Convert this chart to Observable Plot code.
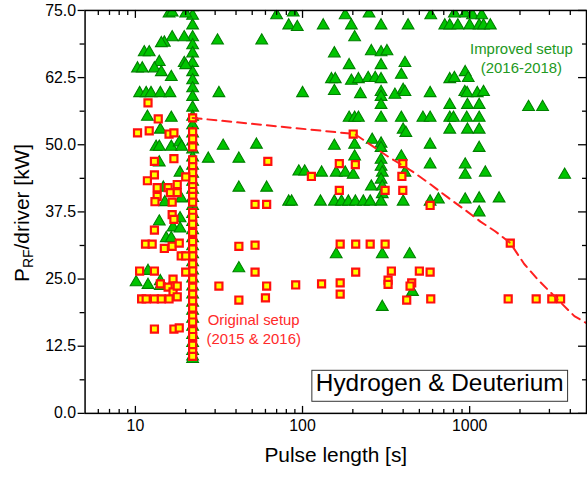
<!DOCTYPE html>
<html><head><meta charset="utf-8">
<script src="https://cdn.jsdelivr.net/npm/d3@7"></script>
<script src="https://cdn.jsdelivr.net/npm/@observablehq/plot@0.6"></script>
<style>html,body{margin:0;padding:0;overflow:hidden;background:#fff;} svg{display:block}</style>
</head><body><div id="chart"></div><script>
// ---- data (pulse length [s], P_RF/driver [kW]) ----
const columnPulse = 22;
const improvedColumnPower = [75.6, 74, 72.2, 70, 68.5, 67, 65.2, 63.5, 62, 60.5, 58.9, 56.9, 55.2, 53.6, 52.1, 50.6, 49.1, 47.6, 46.1, 44.6, 43.1, 41.6, 40.1, 38.6, 37.1, 35.6, 34.1, 32.6, 31.1, 29.6, 28.1, 26.6, 25.1, 23.6, 22.1, 20.6, 19.1, 17.6, 16.1, 14.6, 13.1, 11.6, 10.6, 10.1];
const originalColumnPower = [55, 52.4, 51.1, 49.6, 47.2, 45.9, 44.8, 43.5, 42.2, 41.3, 40.4, 39.3, 37.4, 36.5, 35.2, 33.7, 32, 30.6, 29.3, 27.8, 26.5, 25, 23.5, 22.2, 20.9, 19.6, 18.1, 17, 15.4, 14.3, 12.7, 11.5, 10.6];
const improvedPoints = [
  [15.9,74.4],[16.6,74.6],[20,74.4],[16.6,70],[19.6,70],[14.9,69],[14.3,68.9],
  [11.3,67.2],[12.1,67.2],[13.9,65.4],[19.6,65.2],[10.3,64.2],[11.0,64.2],[13.0,64.2],[14.3,63.5],[16.4,62.6],[20,64.8],
  [10.6,59.6],[11.6,59.6],[12.4,59.6],[14.1,59.6],[16.1,59.6],[11.8,55.2],[16.4,55],[14.1,52.8],
  [13.3,49.6],[13.9,49.6],[16.4,49.6],[18.3,50.4],[18.9,49.6],[13.9,46.7],[18.5,44.8],[14.7,42],[15,39.3],[18.8,40],
  [13.9,35.7],[18.5,36.3],[16.8,34.6],[18.5,34.4],[15.3,32.6],[16.4,32.6],
  [11.9,26.5],[10.1,24.4],[11.9,23.9],[14.1,24.6],[14.1,23.7],
  [70,74.1],[88,74.6],[180,74.1],[250,74.4],[585,74.1],[810,74.4],[940,74.4],[1040,74.1],[1180,74.1],
  [82.7,72.2],[93,71.9],[133,72.2],[196,72.2],[295,72.2],[428,72.2],[710,72.2],[760,72.2],[850,72.2],[1000,72.2],[1140,72.2],[1210,72.2],[1330,72.2],
  [31,69.4],[57,69.4],[205,70],[155,67],[258,67.4],[295,67.2],[320,67.4],[190,64.8],[295,64.8],[410,65.2],
  [390,63],[940,63.5],[760,62.2],[810,62.4],[980,62.4],
  [149,62.2],[157,62.2],[196,61.9],[216,62.2],[247,62.4],[272,62.4],[295,62.2],
  [31.6,59.6],[100,59.6],[155,60],[222,59.4],[295,59.8],[295,58.9],[357,59.3],[400,60.2],[410,59.8],[580,59.6],[935,59.8],[965,59.6],[1110,59.6],[1210,59.8],
  [295,57.4],[760,57.4],[970,57.4],[1140,57.4],[2250,57],[2730,57],
  [190,55],[205,55],[216,55],[295,55],[390,55],[525,55],[580,55],[760,55],[800,55],[960,55],[1140,55],
  [400,52.8],[415,52.2],[760,52.8],[970,52.8],[1140,52.8],
  [33.5,49.8],[53,50],[155,49.8],[205,50],[261,50.9],[295,50.2],[295,49.4],[580,50],[1140,49.4],
  [390,47.8],[27.3,47.4],[41.6,47.4],[205,47.8],[295,47.2],[295,45.9],[580,46.3],[940,46.3],[940,44.4],[1240,44.8],[410,44.8],
  [95,45],[103,45],[130,44.8],[159,44.8],[180,44.8],[201,44.4],[300,44.8],[295,43.5],[300,42.2],[41.6,42],[61,42],[258,42.2],[300,40.8],
  [82.6,39.4],[86,39.4],[128,39.4],[155,39.4],[171,39.4],[188,39.4],[207,39.4],[231,39.4],[254,39.4],[295,39.4],[400,39.4],[580,39.4],[650,39.8],[940,39.8],[1140,40],[1500,40],[1140,37.4],[3700,44.4],
  [41.6,27],[159,29.6],[300,29.6],[437,29.6],[455,22.6],[300,19.8]
];
const originalPoints = [
  [11.9,57.8],[13.7,54.8],[10.3,52.2],[12.1,52.6],[15.9,52],[17,52.2],[17,47.4],[13,46.9],[13,44.4],[11.8,43.3],[13.5,42],[15.7,42],[17.8,42.6],[16.2,41.1],[17.8,41.1],[13.5,40.4],[13.1,39.4],[16.6,39.3],[20,44],
  [16.6,37],[17,36.1],[13,34.1],[11.5,31.5],[12.6,31.5],[14.9,30.7],[16.6,31.1],[18.3,31.7],[18.8,29.3],[20,29.3],
  [10.6,26.5],[13,26.5],[20,26.3],[14.1,24.1],[16.8,25],[16.8,23.7],[15.7,23.5],[16.8,22.6],[17.8,23.7],[17.8,21.7],
  [10.9,21.3],[11.6,21.3],[13,21.3],[14.3,21.3],[15.9,21.3],[13,15.7],[17,15.7],[18.3,15.9],
  [62,46.9],[166,46.5],[207,46.3],[113,44.1],[166,41.5],[312,41.5],[52,38.9],[61,38.9],[580,38.7],[201,52],[398,46.5],[393,44.1],[398,41.5],
  [41.6,31.1],[52,31.3],[168,31.5],[208,31.5],[254,31.5],[312,31.5],[52,26.3],[208,26.3],[340,26.5],[500,26.5],[580,26.3],
  [31.6,23.7],[61,23.7],[91,23.9],[130,24.1],[168,24.3],[168,22.2],[325,24.8],[325,24],[450,24.3],[440,23.7],[41.6,21.1],[60,21.5],[420,21.1],[585,21.3],
  [1700,21.3],[2500,21.3],[3100,21.3],[3500,21.3],[1750,31.7]
];
const envelope = [[22,55],[205,52],[325,47.8],[456,45],[585,42.6],[740,40.2],[935,37.9],[1160,35.7],[1420,33.9],[1750,31.7],[2120,27.8],[2540,25],[3030,22.6],[4230,18.1],[5000,16.8]];
const xMajor = [10, 100, 1000];
const xMinor = [6, 7, 8, 9, 20, 30, 40, 50, 60, 70, 80, 90, 200, 300, 400, 500, 600, 700, 800, 900, 2000, 3000, 4000];
const yMajor = [0, 12.5, 25, 37.5, 50, 62.5, 75];
const yMinor = [6.25, 18.75, 31.25, 43.75, 56.25, 68.75];
const improvedLabel = ["Improved setup", "(2016-2018)"];
const originalLabel = ["Original setup", "(2015 & 2016)"];
const boxLabel = "Hydrogen & Deuterium";
const xTitle = "Pulse length [s]";

// ---- build ----
const improved = improvedColumnPower.map(p => [columnPulse, p]).concat(improvedPoints);
const original = originalColumnPower.map(p => [columnPulse, p]).concat(originalPoints);
const W = 590, H = 477, mL = 85, mR = 1, mT = 10, mB = 62;
const fw = W - mL - mR, fh = H - mT - mB;
const font = "'Liberation Sans', Arial, sans-serif";

const plot = Plot.plot({
  width: W, height: H, marginLeft: mL, marginRight: mR, marginTop: mT, marginBottom: mB,
  style: {fontFamily: font, fontSize: "16px", background: "white", overflow: "visible", color: "black"},
  x: {type: "log", domain: [5, 5000], axis: null},
  y: {domain: [0, 75], axis: null},
  marks: [
    Plot.dot(improved, {x: d => d[0], y: d => d[1], symbol: "triangle", r: 4.4, fill: "#00c400", stroke: "#008000", strokeWidth: 1.1, clip: true}),
    Plot.dot(original, {x: d => d[0], y: d => d[1], symbol: "square", r: 4, fill: "#ffff00", stroke: "#ff0f0f", strokeWidth: 2.2, clip: true}),
    Plot.line(envelope, {x: d => d[0], y: d => d[1], stroke: "#ff2020", strokeWidth: 2, strokeDasharray: "9,6", clip: true}),
    Plot.frame({stroke: "black", strokeWidth: 1.5}),
    // bottom / top inward ticks
    Plot.tickX(xMajor, {x: d => d, insetTop: fh - 7, stroke: "black", strokeWidth: 1.3}),
    Plot.tickX(xMinor, {x: d => d, insetTop: fh - 4, stroke: "black", strokeWidth: 1.3}),
    Plot.tickX(xMajor, {x: d => d, insetBottom: fh - 8, stroke: "black", strokeWidth: 1.3}),
    Plot.tickX(xMinor, {x: d => d, insetBottom: fh - 5, stroke: "black", strokeWidth: 1.3}),
    // left outward ticks, right inward ticks
    Plot.tickY(yMajor, {y: d => d, insetRight: fw - 7, dx: -7, stroke: "black", strokeWidth: 1.3}),
    Plot.tickY(yMinor, {y: d => d, insetRight: fw - 5, dx: -5, stroke: "black", strokeWidth: 1.3}),
    Plot.tickY(yMajor, {y: d => d, insetLeft: fw - 8, stroke: "black", strokeWidth: 1.3}),
    Plot.tickY(yMinor, {y: d => d, insetLeft: fw - 4, stroke: "black", strokeWidth: 1.3}),
    // tick labels
    Plot.text(yMajor, {y: d => d, frameAnchor: "left", dx: -9, textAnchor: "end", text: d => d.toFixed(1), fontSize: 16, fill: "black"}),
    Plot.text(xMajor, {x: d => d, frameAnchor: "bottom", dy: 18, text: d => String(d), fontSize: 16, fill: "black"}),
    Plot.text([xTitle], {frameAnchor: "bottom", dy: 49, text: d => d, fontSize: 21, fill: "black"}),
    // annotations
    Plot.text([improvedLabel[0]], {x: 2040, y: 66, dy: -9.5, text: d => d, fontSize: 15, fill: "#229922"}),
    Plot.text([improvedLabel[1]], {x: 2040, y: 66, dy: 9.5, text: d => d, fontSize: 15, fill: "#229922"}),
    Plot.text([originalLabel[0]], {x: 51, y: 15.6, dy: -9.5, text: d => d, fontSize: 15, fill: "#ff2a2a"}),
    Plot.text([originalLabel[1]], {x: 51, y: 15.6, dy: 9.5, text: d => d, fontSize: 15, fill: "#ff2a2a"}),
    Plot.text([boxLabel], {x: 662, y: 5.56, text: d => d, fontSize: 24.5, fill: "black"})
  ]
});
document.getElementById("chart").appendChild(plot);

const svg = d3.select(plot);
// y-axis title with subscript
const yt = svg.append("text")
  .attr("transform", "translate(29,214) rotate(-90)")
  .attr("text-anchor", "middle")
  .attr("font-family", font)
  .attr("font-size", 21)
  .attr("fill", "black");
yt.append("tspan").text("P");
yt.append("tspan").attr("font-size", 14).attr("dy", 4).text("RF");
yt.append("tspan").attr("dy", -4).text("/driver [kW]");

// box around label
const t = Array.from(plot.querySelectorAll("text")).find(n => n.textContent === boxLabel);
if (t) {
  const b = t.getBBox();
  const parent = t.parentNode;
  const rect = document.createElementNS("http://www.w3.org/2000/svg", "rect");
  rect.setAttribute("x", b.x - 4);
  rect.setAttribute("y", b.y + 1);
  rect.setAttribute("width", b.width + 8);
  rect.setAttribute("height", b.height + 4);
  rect.setAttribute("fill", "white");
  rect.setAttribute("stroke", "#333");
  rect.setAttribute("stroke-width", 1);
  if (t.getAttribute("transform")) rect.setAttribute("transform", t.getAttribute("transform"));
  parent.insertBefore(rect, t);
}
</script></body></html>
